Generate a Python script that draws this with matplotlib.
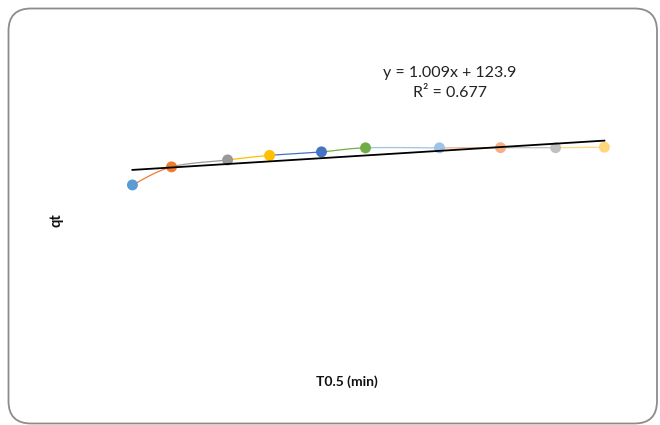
import numpy as np
import matplotlib
matplotlib.use("Agg")
import matplotlib.pyplot as plt
from matplotlib.patches import FancyBboxPatch

# ---- data ----
t_sqrt = [2.0, 3.49, 5.63, 7.23, 9.21, 10.89, 13.71, 16.04, 18.14, 20.0]
qt = [116.6, 127.8, 132.1, 134.9, 137.1, 139.6, 139.6, 139.7, 139.7, 140.0]
point_colors = ["#5B9BD5", "#ED7D31", "#999999", "#FFC000", "#4472C4",
                "#70AD47", "#9DC3E6", "#F4B183", "#C0C0C0", "#FFD67A"]
trend_slope = 1.009
trend_intercept = 123.9
equation_text = "y = 1.009x + 123.9\nR² = 0.677"
x_label = "T0.5 (min)"
y_label = "qt"

plt.rcParams['font.family'] = ['Lato', 'DejaVu Sans']

fig = plt.figure(figsize=(6.6, 4.25), dpi=100)
fig.patch.set_facecolor("white")

# rounded chart border
border = FancyBboxPatch((8.5 / 660, 1 - 423.5 / 425), (657 - 8.5) / 660, (423.5 - 8.5) / 425,
                        boxstyle="round,pad=0,rounding_size=0.034",
                        transform=fig.transFigure, facecolor="none",
                        edgecolor="#8C8C8C", linewidth=1.3, mutation_aspect=660 / 425,
                        zorder=0)
fig.patches.append(border)

ax = fig.add_axes([80 / 660, 52 / 425, 550.6 / 660, 338.7 / 425])
ax.set_zorder(2)
ax.set_xlim(0, 21)
ax.set_ylim(0, 210)
ax.axis("off")

# Excel-like smoothed line (Catmull-Rom Bezier), segments coloured by end point
x = np.array(t_sqrt)
y = np.array(qt)
n = len(x)
for i in range(n - 1):
    p0 = np.array([x[max(i - 1, 0)], y[max(i - 1, 0)]])
    p1 = np.array([x[i], y[i]])
    p2 = np.array([x[i + 1], y[i + 1]])
    p3 = np.array([x[min(i + 2, n - 1)], y[min(i + 2, n - 1)]])
    c1 = p1 + (p2 - p0) / 6.0
    c2 = p2 - (p3 - p1) / 6.0
    s = np.linspace(0, 1, 40)[:, None]
    pts = ((1 - s) ** 3) * p1 + 3 * ((1 - s) ** 2) * s * c1 + 3 * (1 - s) * s ** 2 * c2 + s ** 3 * p2
    ax.plot(pts[:, 0], pts[:, 1], color=point_colors[i + 1], lw=0.9, zorder=2,
            solid_capstyle="round")

ax.scatter(x, y, s=62, c=point_colors, zorder=3, linewidths=0)

# linear trendline
xt = np.array([min(t_sqrt), max(t_sqrt)])
ax.plot(xt, trend_slope * xt + trend_intercept, color="black", lw=1.3, zorder=4)

fig.text(450 / 660, 1 - 83 / 425, equation_text, ha="center", va="center",
         fontsize=11.5, linespacing=1.5, color="#222222")
fig.text(347 / 660, 1 - 382 / 425, x_label, ha="center", va="center",
         fontsize=10, fontweight="bold", color="#111111")
fig.text(57 / 660, 1 - 220 / 425, y_label, ha="center", va="center",
         fontsize=10.5, fontweight="bold", rotation=90, color="#111111")

fig.savefig("out.png", dpi=100)
